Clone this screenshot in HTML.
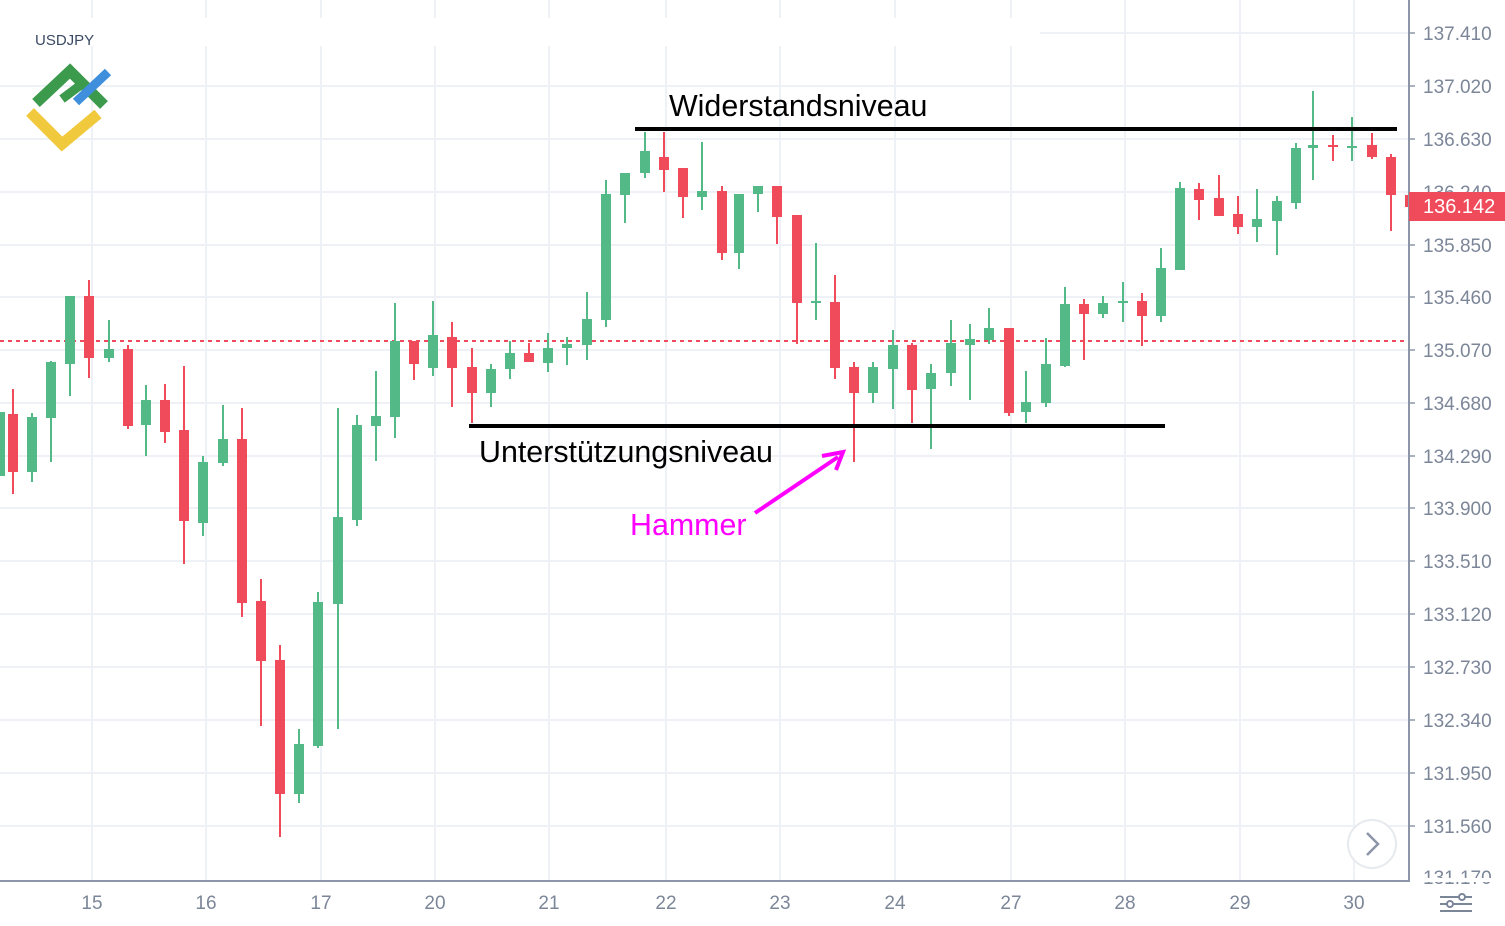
<!DOCTYPE html>
<html><head><meta charset="utf-8"><style>
html,body{margin:0;padding:0;background:#fff;}
svg{display:block;font-family:"Liberation Sans",sans-serif;}
</style></head><body>
<svg width="1505" height="926" viewBox="0 0 1505 926" xmlns="http://www.w3.org/2000/svg">
<rect width="1505" height="926" fill="#fff"/>
<g stroke="#eef1f5" stroke-width="2">
<line x1="0" y1="33" x2="1409" y2="33"/><line x1="0" y1="86" x2="1409" y2="86"/><line x1="0" y1="139" x2="1409" y2="139"/><line x1="0" y1="192" x2="1409" y2="192"/><line x1="0" y1="245" x2="1409" y2="245"/><line x1="0" y1="297" x2="1409" y2="297"/><line x1="0" y1="350" x2="1409" y2="350"/><line x1="0" y1="403" x2="1409" y2="403"/><line x1="0" y1="456" x2="1409" y2="456"/><line x1="0" y1="508" x2="1409" y2="508"/><line x1="0" y1="561" x2="1409" y2="561"/><line x1="0" y1="614" x2="1409" y2="614"/><line x1="0" y1="667" x2="1409" y2="667"/><line x1="0" y1="720" x2="1409" y2="720"/><line x1="0" y1="773" x2="1409" y2="773"/><line x1="0" y1="826" x2="1409" y2="826"/>
<line x1="92" y1="0" x2="92" y2="881"/><line x1="206" y1="0" x2="206" y2="881"/><line x1="321" y1="0" x2="321" y2="881"/><line x1="435" y1="0" x2="435" y2="881"/><line x1="549" y1="0" x2="549" y2="881"/><line x1="666" y1="0" x2="666" y2="881"/><line x1="780" y1="0" x2="780" y2="881"/><line x1="895" y1="0" x2="895" y2="881"/><line x1="1011" y1="0" x2="1011" y2="881"/><line x1="1125" y1="0" x2="1125" y2="881"/><line x1="1240" y1="0" x2="1240" y2="881"/><line x1="1354" y1="0" x2="1354" y2="881"/>
</g>
<rect x="0" y="18" width="1040" height="28" fill="#fff"/>
<line x1="0" y1="341" x2="1409" y2="341" stroke="#f04b5a" stroke-width="2" stroke-dasharray="4,4"/>
<g stroke-width="2">
<g stroke="#53b987" fill="#53b987"><line x1="-2" y1="413" x2="-2" y2="480"/><rect x="-7" y="413" width="11" height="62"/></g>
<g stroke="#f04b5a" fill="#f04b5a"><line x1="13" y1="389" x2="13" y2="494"/><rect x="8" y="414" width="10" height="58" stroke="none"/></g>
<g stroke="#53b987" fill="#53b987"><line x1="32" y1="413" x2="32" y2="482"/><rect x="27" y="417" width="10" height="55" stroke="none"/></g>
<g stroke="#53b987" fill="#53b987"><line x1="51" y1="361" x2="51" y2="462"/><rect x="46" y="362" width="10" height="56" stroke="none"/></g>
<g stroke="#53b987" fill="#53b987"><line x1="70" y1="296" x2="70" y2="396"/><rect x="65" y="296" width="10" height="68" stroke="none"/></g>
<g stroke="#f04b5a" fill="#f04b5a"><line x1="89" y1="280" x2="89" y2="378"/><rect x="84" y="296" width="10" height="62" stroke="none"/></g>
<g stroke="#53b987" fill="#53b987"><line x1="109" y1="320" x2="109" y2="362"/><rect x="104" y="349" width="10" height="9" stroke="none"/></g>
<g stroke="#f04b5a" fill="#f04b5a"><line x1="128" y1="345" x2="128" y2="429"/><rect x="123" y="349" width="10" height="77" stroke="none"/></g>
<g stroke="#53b987" fill="#53b987"><line x1="146" y1="385" x2="146" y2="456"/><rect x="141" y="400" width="10" height="25" stroke="none"/></g>
<g stroke="#f04b5a" fill="#f04b5a"><line x1="165" y1="384" x2="165" y2="443"/><rect x="160" y="400" width="10" height="32" stroke="none"/></g>
<g stroke="#f04b5a" fill="#f04b5a"><line x1="184" y1="366" x2="184" y2="564"/><rect x="179" y="430" width="10" height="91" stroke="none"/></g>
<g stroke="#53b987" fill="#53b987"><line x1="203" y1="456" x2="203" y2="536"/><rect x="198" y="462" width="10" height="61" stroke="none"/></g>
<g stroke="#53b987" fill="#53b987"><line x1="223" y1="405" x2="223" y2="466"/><rect x="218" y="439" width="10" height="24" stroke="none"/></g>
<g stroke="#f04b5a" fill="#f04b5a"><line x1="242" y1="408" x2="242" y2="617"/><rect x="237" y="439" width="10" height="164" stroke="none"/></g>
<g stroke="#f04b5a" fill="#f04b5a"><line x1="261" y1="579" x2="261" y2="726"/><rect x="256" y="601" width="10" height="60" stroke="none"/></g>
<g stroke="#f04b5a" fill="#f04b5a"><line x1="280" y1="645" x2="280" y2="837"/><rect x="275" y="660" width="10" height="134" stroke="none"/></g>
<g stroke="#53b987" fill="#53b987"><line x1="299" y1="729" x2="299" y2="803"/><rect x="294" y="744" width="10" height="50" stroke="none"/></g>
<g stroke="#53b987" fill="#53b987"><line x1="318" y1="592" x2="318" y2="748"/><rect x="313" y="602" width="10" height="144" stroke="none"/></g>
<g stroke="#53b987" fill="#53b987"><line x1="338" y1="408" x2="338" y2="729"/><rect x="333" y="517" width="10" height="87" stroke="none"/></g>
<g stroke="#53b987" fill="#53b987"><line x1="357" y1="415" x2="357" y2="526"/><rect x="352" y="425" width="10" height="95" stroke="none"/></g>
<g stroke="#53b987" fill="#53b987"><line x1="376" y1="371" x2="376" y2="461"/><rect x="371" y="416" width="10" height="10" stroke="none"/></g>
<g stroke="#53b987" fill="#53b987"><line x1="395" y1="303" x2="395" y2="438"/><rect x="390" y="341" width="10" height="76" stroke="none"/></g>
<g stroke="#f04b5a" fill="#f04b5a"><line x1="414" y1="341" x2="414" y2="380"/><rect x="409" y="341" width="10" height="23" stroke="none"/></g>
<g stroke="#53b987" fill="#53b987"><line x1="433" y1="301" x2="433" y2="376"/><rect x="428" y="335" width="10" height="33" stroke="none"/></g>
<g stroke="#f04b5a" fill="#f04b5a"><line x1="452" y1="322" x2="452" y2="407"/><rect x="447" y="337" width="10" height="31" stroke="none"/></g>
<g stroke="#f04b5a" fill="#f04b5a"><line x1="472" y1="348" x2="472" y2="423"/><rect x="467" y="367" width="10" height="26" stroke="none"/></g>
<g stroke="#53b987" fill="#53b987"><line x1="491" y1="364" x2="491" y2="407"/><rect x="486" y="369" width="10" height="24" stroke="none"/></g>
<g stroke="#53b987" fill="#53b987"><line x1="510" y1="341" x2="510" y2="379"/><rect x="505" y="353" width="10" height="16" stroke="none"/></g>
<g stroke="#f04b5a" fill="#f04b5a"><line x1="529" y1="343" x2="529" y2="362"/><rect x="524" y="353" width="10" height="9" stroke="none"/></g>
<g stroke="#53b987" fill="#53b987"><line x1="548" y1="333" x2="548" y2="372"/><rect x="543" y="348" width="10" height="15" stroke="none"/></g>
<g stroke="#53b987" fill="#53b987"><line x1="567" y1="337" x2="567" y2="365"/><rect x="562" y="344" width="10" height="4" stroke="none"/></g>
<g stroke="#53b987" fill="#53b987"><line x1="587" y1="292" x2="587" y2="360"/><rect x="582" y="319" width="10" height="26" stroke="none"/></g>
<g stroke="#53b987" fill="#53b987"><line x1="606" y1="180" x2="606" y2="327"/><rect x="601" y="194" width="10" height="126" stroke="none"/></g>
<g stroke="#53b987" fill="#53b987"><line x1="625" y1="173" x2="625" y2="223"/><rect x="620" y="173" width="10" height="22" stroke="none"/></g>
<g stroke="#53b987" fill="#53b987"><line x1="645" y1="132" x2="645" y2="178"/><rect x="640" y="151" width="10" height="22" stroke="none"/></g>
<g stroke="#f04b5a" fill="#f04b5a"><line x1="664" y1="132" x2="664" y2="192"/><rect x="659" y="157" width="10" height="13" stroke="none"/></g>
<g stroke="#f04b5a" fill="#f04b5a"><line x1="683" y1="168" x2="683" y2="218"/><rect x="678" y="168" width="10" height="29" stroke="none"/></g>
<g stroke="#53b987" fill="#53b987"><line x1="702" y1="142" x2="702" y2="210"/><rect x="697" y="191" width="10" height="6" stroke="none"/></g>
<g stroke="#f04b5a" fill="#f04b5a"><line x1="722" y1="186" x2="722" y2="260"/><rect x="717" y="191" width="10" height="62" stroke="none"/></g>
<g stroke="#53b987" fill="#53b987"><line x1="739" y1="194" x2="739" y2="269"/><rect x="734" y="194" width="10" height="59" stroke="none"/></g>
<g stroke="#53b987" fill="#53b987"><line x1="758" y1="186" x2="758" y2="212"/><rect x="753" y="186" width="10" height="8" stroke="none"/></g>
<g stroke="#f04b5a" fill="#f04b5a"><line x1="777" y1="186" x2="777" y2="244"/><rect x="772" y="186" width="10" height="31" stroke="none"/></g>
<g stroke="#f04b5a" fill="#f04b5a"><line x1="797" y1="215" x2="797" y2="344"/><rect x="792" y="215" width="10" height="88" stroke="none"/></g>
<g stroke="#53b987" fill="#53b987"><line x1="816" y1="243" x2="816" y2="320"/><rect x="811" y="301" width="10" height="2" stroke="none"/></g>
<g stroke="#f04b5a" fill="#f04b5a"><line x1="835" y1="275" x2="835" y2="379"/><rect x="830" y="302" width="10" height="66" stroke="none"/></g>
<g stroke="#f04b5a" fill="#f04b5a"><line x1="854" y1="362" x2="854" y2="462"/><rect x="849" y="367" width="10" height="26" stroke="none"/></g>
<g stroke="#53b987" fill="#53b987"><line x1="873" y1="362" x2="873" y2="403"/><rect x="868" y="367" width="10" height="26" stroke="none"/></g>
<g stroke="#53b987" fill="#53b987"><line x1="893" y1="330" x2="893" y2="409"/><rect x="888" y="345" width="10" height="24" stroke="none"/></g>
<g stroke="#f04b5a" fill="#f04b5a"><line x1="912" y1="343" x2="912" y2="423"/><rect x="907" y="345" width="10" height="45" stroke="none"/></g>
<g stroke="#53b987" fill="#53b987"><line x1="931" y1="364" x2="931" y2="449"/><rect x="926" y="373" width="10" height="16" stroke="none"/></g>
<g stroke="#53b987" fill="#53b987"><line x1="951" y1="320" x2="951" y2="386"/><rect x="946" y="343" width="10" height="30" stroke="none"/></g>
<g stroke="#53b987" fill="#53b987"><line x1="970" y1="324" x2="970" y2="400"/><rect x="965" y="339" width="10" height="6" stroke="none"/></g>
<g stroke="#53b987" fill="#53b987"><line x1="989" y1="308" x2="989" y2="344"/><rect x="984" y="328" width="10" height="12" stroke="none"/></g>
<g stroke="#f04b5a" fill="#f04b5a"><line x1="1009" y1="328" x2="1009" y2="416"/><rect x="1004" y="328" width="10" height="85" stroke="none"/></g>
<g stroke="#53b987" fill="#53b987"><line x1="1026" y1="371" x2="1026" y2="423"/><rect x="1021" y="402" width="10" height="10" stroke="none"/></g>
<g stroke="#53b987" fill="#53b987"><line x1="1046" y1="338" x2="1046" y2="407"/><rect x="1041" y="364" width="10" height="39" stroke="none"/></g>
<g stroke="#53b987" fill="#53b987"><line x1="1065" y1="287" x2="1065" y2="367"/><rect x="1060" y="304" width="10" height="62" stroke="none"/></g>
<g stroke="#f04b5a" fill="#f04b5a"><line x1="1084" y1="299" x2="1084" y2="360"/><rect x="1079" y="304" width="10" height="10" stroke="none"/></g>
<g stroke="#53b987" fill="#53b987"><line x1="1103" y1="296" x2="1103" y2="318"/><rect x="1098" y="303" width="10" height="11" stroke="none"/></g>
<g stroke="#53b987" fill="#53b987"><line x1="1123" y1="282" x2="1123" y2="322"/><rect x="1118" y="301" width="10" height="2" stroke="none"/></g>
<g stroke="#f04b5a" fill="#f04b5a"><line x1="1142" y1="293" x2="1142" y2="346"/><rect x="1137" y="301" width="10" height="15" stroke="none"/></g>
<g stroke="#53b987" fill="#53b987"><line x1="1161" y1="248" x2="1161" y2="322"/><rect x="1156" y="268" width="10" height="48" stroke="none"/></g>
<g stroke="#53b987" fill="#53b987"><line x1="1180" y1="182" x2="1180" y2="270"/><rect x="1175" y="188" width="10" height="82" stroke="none"/></g>
<g stroke="#f04b5a" fill="#f04b5a"><line x1="1199" y1="183" x2="1199" y2="220"/><rect x="1194" y="189" width="10" height="11" stroke="none"/></g>
<g stroke="#f04b5a" fill="#f04b5a"><line x1="1219" y1="175" x2="1219" y2="216"/><rect x="1214" y="198" width="10" height="18" stroke="none"/></g>
<g stroke="#f04b5a" fill="#f04b5a"><line x1="1238" y1="196" x2="1238" y2="234"/><rect x="1233" y="214" width="10" height="13" stroke="none"/></g>
<g stroke="#53b987" fill="#53b987"><line x1="1257" y1="189" x2="1257" y2="242"/><rect x="1252" y="219" width="10" height="8" stroke="none"/></g>
<g stroke="#53b987" fill="#53b987"><line x1="1277" y1="196" x2="1277" y2="255"/><rect x="1272" y="201" width="10" height="20" stroke="none"/></g>
<g stroke="#53b987" fill="#53b987"><line x1="1296" y1="143" x2="1296" y2="209"/><rect x="1291" y="148" width="10" height="55" stroke="none"/></g>
<g stroke="#53b987" fill="#53b987"><line x1="1313" y1="91" x2="1313" y2="180"/><rect x="1308" y="145" width="10" height="3" stroke="none"/></g>
<g stroke="#f04b5a" fill="#f04b5a"><line x1="1333" y1="135" x2="1333" y2="161"/><rect x="1328" y="145" width="10" height="2" stroke="none"/></g>
<g stroke="#53b987" fill="#53b987"><line x1="1352" y1="117" x2="1352" y2="161"/><rect x="1347" y="146" width="10" height="2" stroke="none"/></g>
<g stroke="#f04b5a" fill="#f04b5a"><line x1="1372" y1="133" x2="1372" y2="159"/><rect x="1367" y="145" width="10" height="12" stroke="none"/></g>
<g stroke="#f04b5a" fill="#f04b5a"><line x1="1391" y1="154" x2="1391" y2="231"/><rect x="1386" y="157" width="10" height="38" stroke="none"/></g>
<rect x="1405" y="195" width="5" height="12" fill="#f04b5a"/>
</g>
<line x1="635" y1="129" x2="1397" y2="129" stroke="#000" stroke-width="4"/>
<line x1="469" y1="426" x2="1165" y2="426" stroke="#000" stroke-width="4"/>
<text x="669" y="116" font-size="30.4" fill="#000">Widerstandsniveau</text>
<text x="479" y="462" font-size="30.4" fill="#000">Unterstützungsniveau</text>
<text x="630" y="535" font-size="30.4" fill="#ff00ff">Hammer</text>
<line x1="755" y1="513" x2="838" y2="457" stroke="#ff00ff" stroke-width="4"/>
<polyline points="822,456 843,452 836,470" fill="none" stroke="#ff00ff" stroke-width="4"/>
<rect x="1410" y="0" width="95" height="926" fill="#fff"/>
<rect x="0" y="882" width="1505" height="44" fill="#fff"/>
<line x1="1409" y1="0" x2="1409" y2="882" stroke="#8c96a8" stroke-width="2"/>
<line x1="0" y1="881" x2="1409" y2="881" stroke="#8c96a8" stroke-width="2"/>
<g fill="#7c8699" font-size="19">
<text x="1423" y="40">137.410</text><text x="1423" y="93">137.020</text><text x="1423" y="146">136.630</text><text x="1423" y="199">136.240</text><text x="1423" y="252">135.850</text><text x="1423" y="304">135.460</text><text x="1423" y="357">135.070</text><text x="1423" y="410">134.680</text><text x="1423" y="463">134.290</text><text x="1423" y="515">133.900</text><text x="1423" y="568">133.510</text><text x="1423" y="621">133.120</text><text x="1423" y="674">132.730</text><text x="1423" y="727">132.340</text><text x="1423" y="780">131.950</text><text x="1423" y="833">131.560</text><text x="1423" y="884">131.170</text>
</g>
<rect x="1410" y="878" width="95" height="4" fill="#fff"/>
<g stroke="#8c96a8" stroke-width="1.5"><line x1="1409" y1="33" x2="1415" y2="33"/><line x1="1409" y1="86" x2="1415" y2="86"/><line x1="1409" y1="139" x2="1415" y2="139"/><line x1="1409" y1="245" x2="1415" y2="245"/><line x1="1409" y1="297" x2="1415" y2="297"/><line x1="1409" y1="350" x2="1415" y2="350"/><line x1="1409" y1="403" x2="1415" y2="403"/><line x1="1409" y1="456" x2="1415" y2="456"/><line x1="1409" y1="508" x2="1415" y2="508"/><line x1="1409" y1="561" x2="1415" y2="561"/><line x1="1409" y1="614" x2="1415" y2="614"/><line x1="1409" y1="667" x2="1415" y2="667"/><line x1="1409" y1="720" x2="1415" y2="720"/><line x1="1409" y1="773" x2="1415" y2="773"/><line x1="1409" y1="826" x2="1415" y2="826"/></g>
<rect x="1409" y="192" width="96" height="29" fill="#f04b5a"/>
<text x="1423" y="213" font-size="20" fill="#fff">136.142</text>
<g fill="#7c8699" font-size="19" text-anchor="middle">
<text x="92" y="909">15</text><text x="206" y="909">16</text><text x="321" y="909">17</text><text x="435" y="909">20</text><text x="549" y="909">21</text><text x="666" y="909">22</text><text x="780" y="909">23</text><text x="895" y="909">24</text><text x="1011" y="909">27</text><text x="1125" y="909">28</text><text x="1240" y="909">29</text><text x="1354" y="909">30</text>
</g>
<g stroke="#7c8699" stroke-width="2" fill="#fff"><line x1="1440" y1="897" x2="1472" y2="897"/><line x1="1440" y1="904" x2="1472" y2="904"/><line x1="1440" y1="911" x2="1472" y2="911"/><circle cx="1462" cy="897" r="3"/><circle cx="1450" cy="904" r="3"/></g>
<circle cx="1372" cy="844" r="24" fill="#fff" stroke="#e6e9ee" stroke-width="2"/>
<polyline points="1367,833 1378,844 1367,855" fill="none" stroke="#8c96a8" stroke-width="2.5"/>
<text x="35" y="45" font-size="15" fill="#3a4a63">USDJPY</text>
<polyline points="30,112 62,144 98,114" fill="none" stroke="#f0c93c" stroke-width="11"/>
<polyline points="36,103 70,71 104,105" fill="none" stroke="#3c9a4d" stroke-width="11"/>
<line x1="76" y1="102" x2="108" y2="72" stroke="#3f8fdc" stroke-width="9"/>
<line x1="62" y1="99" x2="82" y2="84" stroke="#3c9a4d" stroke-width="9"/>
</svg>
</body></html>
